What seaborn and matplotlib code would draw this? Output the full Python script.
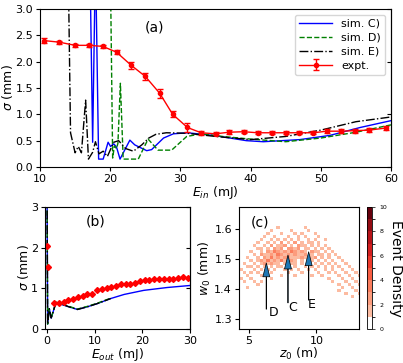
import numpy as np
import pandas as pd
import matplotlib
matplotlib.use("Agg")
import matplotlib.pyplot as plt
from matplotlib.colors import ListedColormap, BoundaryNorm
import seaborn as sns

# ---- panel (a): sigma vs input energy ----
ein_expt = [10.6, 12.75, 15.0, 17.0, 18.95, 20.9, 23.0, 25.0, 27.05, 28.9, 31.0, 32.95,
            35.0, 36.9, 39.0, 41.0, 43.0, 45.0, 46.9, 48.95, 50.85, 52.85, 54.85, 56.85, 59.3]
sig_expt = [2.40, 2.37, 2.31, 2.31, 2.29, 2.18, 1.93, 1.72, 1.40, 1.00, 0.75, 0.65,
            0.63, 0.66, 0.67, 0.65, 0.65, 0.65, 0.65, 0.65, 0.68, 0.68, 0.69, 0.70, 0.74]
err_expt = [0.04, 0.03, 0.03, 0.03, 0.03, 0.04, 0.06, 0.07, 0.09, 0.06, 0.08, 0.04,
            0.03, 0.04, 0.03, 0.03, 0.03, 0.03, 0.03, 0.03, 0.04, 0.04, 0.04, 0.04, 0.04]

ein_c = [17.1, 17.5, 17.9, 18.35, 19.0, 19.7, 20.05, 20.5, 20.9, 21.4, 22.8, 23.5, 25.2,
         25.9, 27.6, 29.0, 31.0, 34.7, 39.4, 41.8, 47.0, 51.3, 55.6, 60.0]
sig_c = [4.0, 0.47, 4.0, 0.15, 0.15, 0.47, 0.39, 0.44, 0.38, 0.15, 0.51, 0.42, 0.31,
         0.33, 0.55, 0.63, 0.65, 0.60, 0.50, 0.48, 0.52, 0.60, 0.75, 0.88]

ein_d = [20.0, 20.35, 20.6, 20.9, 21.1, 21.45, 21.85, 24.0, 25.4, 26.8, 28.75, 30.9,
         33.0, 36.0, 40.0, 45.0, 50.0, 55.0, 60.0]
sig_d = [4.0, 0.17, 0.40, 0.35, 0.45, 1.59, 0.15, 0.15, 0.53, 0.32, 0.32, 0.58,
         0.63, 0.58, 0.53, 0.48, 0.55, 0.66, 0.80]

ein_e = [14.0, 14.35, 15.0, 15.45, 15.9, 16.5, 16.9, 17.5, 17.9, 18.4, 19.0, 19.6, 20.5,
         21.2, 22.2, 23.3, 24.5, 25.5, 26.5, 28.0, 31.0, 35.0, 40.0, 45.0, 50.0, 55.0, 60.0]
sig_e = [4.0, 0.65, 0.27, 0.39, 0.27, 1.27, 0.15, 0.28, 0.48, 0.25, 0.30, 0.20, 0.47,
         0.50, 0.35, 0.30, 0.42, 0.55, 0.62, 0.65, 0.64, 0.58, 0.52, 0.58, 0.70, 0.86, 0.95]

# ---- panel (b): sigma vs output energy ----
eout_expt = [0.0, 0.2] + list(np.arange(1.5, 30.0, 1.0))
sig_out = [2.03, 1.52, 0.65, 0.65, 0.66, 0.71, 0.74, 0.78, 0.82, 0.87, 0.87, 0.96,
           0.99, 1.01, 1.04, 1.05, 1.10, 1.11, 1.11, 1.14, 1.18, 1.20, 1.21, 1.22,
           1.23, 1.23, 1.24, 1.24, 1.26, 1.28, 1.25]
err_out = [0.05, 0.04] + [0.04] * 29

eout_c = [0.0, 0.05, 0.15, 0.5, 0.9, 1.9, 3.4, 4.5, 6.4, 8.6, 10.7, 13.4, 16.2, 20.3, 25.2, 30.0]
sigo_c = [4.0, 3.0, 0.12, 0.50, 0.27, 0.65, 0.59, 0.55, 0.48, 0.55, 0.63, 0.75, 0.85, 0.95, 1.02, 1.07]
eout_d = [0.0, 0.05, 0.15, 0.5, 0.9, 1.9, 3.4, 4.5, 6.4, 8.6, 10.7, 13.4]
sigo_d = [4.0, 3.0, 0.12, 0.50, 0.27, 0.66, 0.61, 0.56, 0.49, 0.56, 0.64, 0.76]
eout_e = [0.0, 0.05, 0.15, 0.5, 0.9, 1.9, 3.4, 4.5, 6.4, 8.6, 10.7, 13.4]
sigo_e = [4.0, 3.0, 0.12, 0.50, 0.27, 0.65, 0.60, 0.55, 0.48, 0.55, 0.63, 0.75]

# ---- panel (c): event counts on a (z0, w0) grid, top row = highest w0 ----
z0_edges = np.arange(4.3, 13.31, 0.25)
w0_edges = np.arange(1.37, 1.6101, 0.01)
counts_rows = [
    "000000000001000000010000000000000000",
    "000000000100000100001000000000000000",
    "000000001000100010100010000000000000",
    "000000010010001001010001000000000000",
    "000000100101010101001010010000000000",
    "000001001010201020101101000000000000",
    "000010010201120102110101010000000000",
    "000001101021202212011010101000000000",
    "000100102132121321210211010100000000",
    "000010211213212121120101101010000000",
    "001001021312122111210120101001000000",
    "000101213121311210101101010100100000",
    "010010121211010110101010101010010000",
    "001101010101101010010101010101001000",
    "100010101010010101001010010100100100",
    "010101000100001000100001001010010010",
    "001000110000100010000100100001001001",
    "100100000100000000000000001000100100",
    "010010100000000000000000000100010010",
    "000001000000000000000000000001001001",
    "001000000000000000000000000000100100",
    "000000000000000000000000000001000010",
    "000000000000000000000000000000010001",
    "000000000000000000000000000000000100",
]
arrow_labels = ["D", "C", "E"]
arrow_tip = [(6.30, 1.487), (7.90, 1.513), (9.43, 1.524)]
arrow_tail = [(6.30, 1.333), (7.90, 1.354), (9.43, 1.363)]
label_pos = [(6.85, 1.321), (8.22, 1.338), (9.63, 1.347)]

fig = plt.figure(figsize=(4.03, 3.63), dpi=100)
ax_a = fig.add_axes([40 / 403, 1 - 167 / 363, 351 / 403, 158 / 363])
ax_b = fig.add_axes([45 / 403, 1 - 329 / 363, 145 / 403, 122 / 363])
ax_c = fig.add_axes([239 / 403, 1 - 329 / 363, 120 / 403, 122 / 363])
cax = fig.add_axes([367 / 403, 1 - 329 / 363, 5 / 403, 122 / 363])

tick_fs = 8
lab_fs = 9

# (a)
sns.lineplot(x=ein_c, y=sig_c, ax=ax_a, color="b", lw=1, sort=False, estimator=None, label="sim. C)")
sns.lineplot(x=ein_d, y=sig_d, ax=ax_a, color="g", lw=1, ls="--", sort=False, estimator=None, label="sim. D)")
sns.lineplot(x=ein_e, y=sig_e, ax=ax_a, color="k", lw=1, ls="-.", sort=False, estimator=None, label="sim. E)")
ax_a.errorbar(ein_expt, sig_expt, yerr=err_expt, fmt="-o", color="r", ms=3, lw=1,
              capsize=2, elinewidth=1, label="expt.")
ax_a.set_xlim(10, 60)
ax_a.set_ylim(0, 3)
ax_a.set_yticks(np.arange(0, 3.01, 0.5))
ax_a.set_xlabel("$E_{in}$ (mJ)", fontsize=lab_fs, labelpad=0)
ax_a.set_ylabel("$\\sigma$ (mm)", fontsize=lab_fs, labelpad=0)
ax_a.text(26.3, 2.64, "(a)", fontsize=10, ha="center", va="center")
ax_a.legend(loc="upper right", fontsize=8, handlelength=3, borderpad=0.4, labelspacing=0.35)

# (b)
sns.lineplot(x=eout_c, y=sigo_c, ax=ax_b, color="b", lw=1, sort=False, estimator=None)
sns.lineplot(x=eout_d, y=sigo_d, ax=ax_b, color="g", lw=1, ls="--", sort=False, estimator=None)
sns.lineplot(x=eout_e, y=sigo_e, ax=ax_b, color="k", lw=1, ls="-.", sort=False, estimator=None)
ax_b.errorbar(eout_expt, sig_out, yerr=err_out, fmt="D", color="r", ms=3, elinewidth=1, capsize=0)
ax_b.set_xlim(-0.4, 30)
ax_b.set_ylim(0, 3)
ax_b.set_yticks([0, 1, 2, 3])
ax_b.set_xticks([0, 10, 20, 30])
ax_b.set_xlabel("$E_{out}$ (mJ)", fontsize=lab_fs, labelpad=0)
ax_b.set_ylabel("$\\sigma$ (mm)", fontsize=lab_fs, labelpad=0)
ax_b.text(10.3, 2.64, "(b)", fontsize=10, ha="center", va="center")

for ax in (ax_a, ax_b):
    sec = ax.secondary_yaxis("right")
    sec.tick_params(direction="in", labelright=False, length=3)

# (c)
assert all(len(r) == 36 for r in counts_rows)
counts = np.array([[int(ch) for ch in row] for row in counts_rows[::-1]], dtype=float)
counts = np.ma.masked_equal(counts, 0)
reds = plt.get_cmap("Reds")
cmap = ListedColormap(["white"] + [reds(v) for v in np.linspace(0.25, 1.0, 9)])
norm = BoundaryNorm(np.arange(0, 11), cmap.N)
mesh = ax_c.pcolormesh(z0_edges, w0_edges, counts, cmap=cmap, norm=norm)
for lab, tip, tail, pos in zip(arrow_labels, arrow_tip, arrow_tail, label_pos):
    ax_c.annotate("", xy=tip, xytext=tail,
                  arrowprops=dict(facecolor="#1f77b4", edgecolor="k", lw=0.5,
                                  width=0.3, headwidth=5, headlength=10, shrink=0))
    ax_c.text(pos[0], pos[1], lab, fontsize=9, ha="center", va="center")
ax_c.set_xlim(4.28, 13.15)
ax_c.set_ylim(1.267, 1.673)
ax_c.set_xticks([5, 10])
ax_c.set_yticks([1.3, 1.4, 1.5, 1.6])
ax_c.set_xlabel("$z_0$ (m)", fontsize=lab_fs, labelpad=0)
ax_c.set_ylabel("$w_0$ (mm)", fontsize=lab_fs, labelpad=1)
ax_c.text(5.8, 1.623, "(c)", fontsize=10, ha="center", va="center")

cb = fig.colorbar(mesh, cax=cax, ticks=[0, 2, 4, 6, 8, 10])
cb.ax.tick_params(labelsize=4.5, length=2, width=0.5)
cb.outline.set_linewidth(0.6)
cb.set_label("Event Density", rotation=270, fontsize=10, labelpad=11)

for ax in (ax_a, ax_b, ax_c):
    ax.tick_params(labelsize=tick_fs, length=3, pad=2)

fig.savefig("out.png", dpi=100)
